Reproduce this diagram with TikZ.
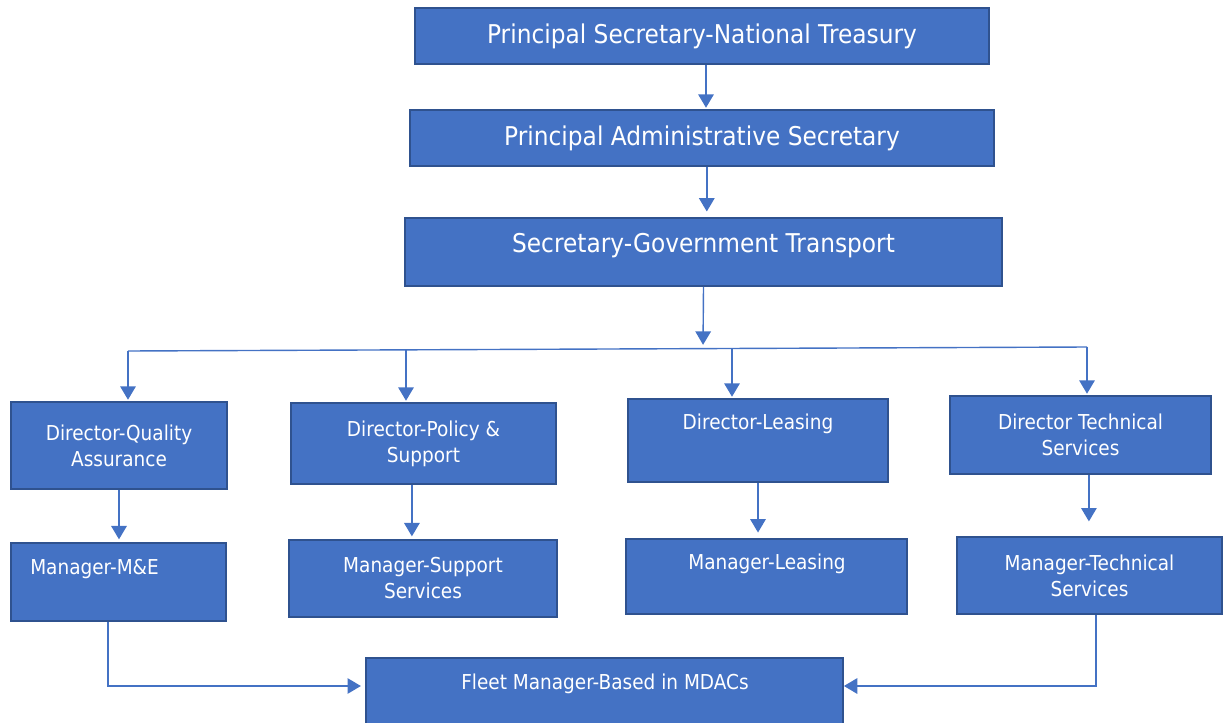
\documentclass[tikz,border=0pt]{standalone}
\usepackage{fontspec}
\setmainfont{DejaVu Sans}[FakeStretch=0.9]
\usetikzlibrary{arrows.meta}
\definecolor{boxblue}{HTML}{4472C4}
\definecolor{boxedge}{HTML}{2F528F}

\begin{document}
\begin{tikzpicture}[x=0.025cm, y=-0.025cm]
    % Define styles
    \tikzset{
        post/.style={draw=boxedge, line width=1.2pt, fill=boxblue, text=white, align=center, inner sep=0pt},
        bigpost/.style={post, font=\fontsize{18.4}{22}\selectfont},
        smallpost/.style={post, font=\fontsize{14.6}{18.5}\selectfont},
        bigtext/.style={text=white, align=center, inner sep=0pt, font=\fontsize{18.4}{22}\selectfont},
        smalltext/.style={text=white, align=center, inner sep=0pt, font=\fontsize{14.6}{18.5}\selectfont},
        link/.style={draw=boxblue, line width=1pt},
        arrowlink/.style={link, -{Triangle[length=9.5pt, width=11pt]}}
    }
    \useasboundingbox (0,0) rectangle (1224,723);

    % Top chain
    \node[bigpost, minimum width=14.35cm, minimum height=1.4cm] (ps) at (702,36) {Principal Secretary-National Treasury};
    \node[bigpost, minimum width=14.6cm, minimum height=1.4cm] (pas) at (702,138) {Principal Administrative Secretary};
    \node[bigpost, minimum width=14.925cm, minimum height=1.7cm] (sgt) at (703.5,252) {};
    \node[bigtext] (sgtt) at (703.5,246) {Secretary-Government Transport};

    % Directors
    \node[smallpost, minimum width=5.4cm, minimum height=2.175cm] (dqa) at (119,445.5) {Director-Quality\\Assurance};
    \node[smallpost, minimum width=6.625cm, minimum height=2.025cm] (dps) at (423.5,443.5) {Director-Policy \&\\Support};
    \node[smallpost, minimum width=6.5cm, minimum height=2.075cm] (dl) at (758,440.5) {};
    \node[smalltext] (dlt) at (758,424) {Director-Leasing};
    \node[smallpost, minimum width=6.525cm, minimum height=1.95cm] (dts) at (1080.5,435) {Director Technical\\Services};

    % Managers
    \node[smallpost, minimum width=5.375cm, minimum height=1.95cm] (me) at (118.5,582) {};
    \node[smalltext, anchor=west] (met) at (30,569) {Manager-M\&E};
    \node[smallpost, minimum width=6.7cm, minimum height=1.925cm] (mss) at (423,578.5) {Manager-Support\\Services};
    \node[smallpost, minimum width=7.025cm, minimum height=1.875cm] (ml) at (766.5,576.5) {};
    \node[smalltext] (mlt) at (767,564) {Manager-Leasing};
    \node[smallpost, minimum width=6.625cm, minimum height=1.925cm] (mts) at (1089.5,575.5) {Manager-Technical\\Services};

    % Fleet manager
    \node[smallpost, minimum width=11.925cm, minimum height=2.05cm] (fleet) at (604.5,699) {};
    \node[smalltext] (fleett) at (605,684) {Fleet Manager-Based in MDACs};

    % Bus coordinates
    \coordinate (bus) at (703,349);
    \coordinate (bl) at (128,351);
    \coordinate (b2) at (406,350);
    \coordinate (b3) at (732,349);
    \coordinate (br) at (1087,347);

    % Connecting lines
    \draw[arrowlink, shorten >=1pt] ([xshift=0.1cm]ps.south) -- ([xshift=0.1cm]ps.south |- pas.north);
    \draw[arrowlink, shorten >=4pt] ([xshift=0.12cm]pas.south) -- ([xshift=0.12cm]pas.south |- sgt.north);
    \draw[arrowlink, shorten >=3pt] (sgt.south) -- (bus);
    \draw[link] (bl) -- (br);
    \draw[arrowlink, shorten >=1pt] (bl) -- (bl |- dqa.north);
    \draw[arrowlink, shorten >=1pt] (b2) -- (b2 |- dps.north);
    \draw[arrowlink, shorten >=1pt] (b3) -- (b3 |- dl.north);
    \draw[arrowlink, shorten >=1pt] (br) -- (br |- dts.north);

    \draw[arrowlink, shorten >=2pt] (dqa.south) -- (dqa.south |- me.north);
    \draw[arrowlink, shorten >=2pt] ([xshift=-0.29cm]dps.south) -- ([xshift=-0.29cm]dps.south |- mss.north);
    \draw[arrowlink, shorten >=4pt] (dl.south) -- (dl.south |- ml.north);
    \draw[arrowlink, shorten >=10.5pt] ([xshift=0.21cm]dts.south) -- ([xshift=0.21cm]dts.south |- mts.north);

    \draw[arrowlink, shorten >=3pt] ([xshift=-0.26cm]me.south) |- ([yshift=0.325cm]fleet.west);
    \draw[arrowlink] ([xshift=0.16cm]mts.south) |- ([yshift=0.325cm]fleet.east);

\end{tikzpicture}
\end{document}
